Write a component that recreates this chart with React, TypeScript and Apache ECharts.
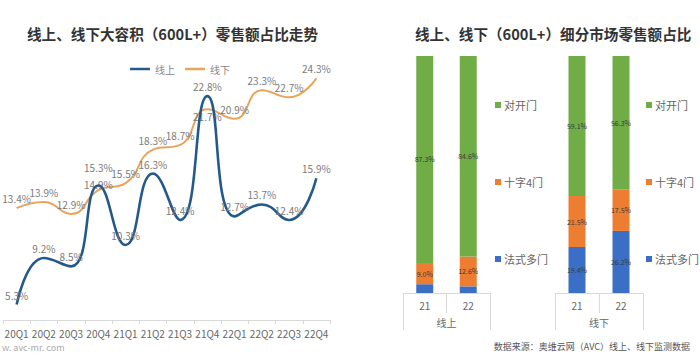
import React, { useEffect, useRef } from "react";
import * as echarts from "echarts";

const quarters = ["20Q1", "20Q2", "20Q3", "20Q4", "21Q1", "21Q2", "21Q3", "21Q4", "22Q1", "22Q2", "22Q3", "22Q4"];
const onlineShare = [5.3, 9.2, 8.5, 15.3, 10.3, 16.3, 12.4, 22.8, 12.7, 13.7, 12.4, 15.9];
const offlineShare = [13.4, 13.9, 12.9, 14.9, 15.5, 18.3, 18.7, 21.7, 20.9, 23.3, 22.7, 24.3];

const years = ["21", "22"];
const onlineDuikai = [87.3, 84.6];
const onlineShizi = [9.0, 12.6];
const onlineFashi = [3.7, 2.8];
const offlineDuikai = [59.1, 56.3];
const offlineShizi = [21.5, 17.5];
const offlineFashi = [19.4, 26.2];

const CJK = '"Noto Sans CJK SC", "Noto Sans", sans-serif';
const GREEN = "#70ad47";
const ORANGE = "#ed7d31";
const BLUE = "#3b6fc6";
const LINE_ON = "#24598c";
const LINE_OFF = "#eaa35a";

export default function App() {
  const ref = useRef<HTMLDivElement>(null);
  useEffect(() => {
    if (!ref.current) return;
    const chart = echarts.init(ref.current, null, { renderer: "svg" });
    const pctLabel = (p: any) => Number(p.value).toFixed(1) + "%";
    const lineLabel = {
      show: true,
      position: "top",
      distance: 4,
      fontSize: 10,
      color: "#7a7a7a",
      fontFamily: CJK,
      formatter: pctLabel,
    };
    const barLabel = {
      show: true,
      position: "inside",
      fontSize: 7,
      color: "#3a3a3a",
      fontFamily: CJK,
      formatter: (p: any) => (p.value < 5 ? "" : Number(p.value).toFixed(1) + "%"),
    };
    const catAxisCommon = {
      axisLine: { show: true, lineStyle: { color: "#d9d9d9" } },
      axisLabel: { color: "#666", fontSize: 10, fontFamily: CJK, interval: 0 },
      splitLine: { show: false },
    };
    const barGroup = (xi: number, yi: number, fashi: number[], shizi: number[], duikai: number[], stack: string) => [
      { name: "法式多门", type: "bar", stack, xAxisIndex: xi, yAxisIndex: yi, data: fashi, barWidth: 17, itemStyle: { color: BLUE }, label: barLabel },
      { name: "十字4门", type: "bar", stack, xAxisIndex: xi, yAxisIndex: yi, data: shizi, barWidth: 17, itemStyle: { color: ORANGE }, label: barLabel },
      { name: "对开门", type: "bar", stack, xAxisIndex: xi, yAxisIndex: yi, data: duikai, barWidth: 17, itemStyle: { color: GREEN }, label: barLabel },
    ];
    const legendBar = (left: number) => ({
      orient: "vertical",
      left,
      top: 93,
      icon: "rect",
      itemWidth: 6,
      itemHeight: 6,
      itemGap: 63,
      data: ["对开门", "十字4门", "法式多门"],
      textStyle: { color: "#666", fontSize: 11, fontFamily: CJK, lineHeight: 14, padding: [0, 0, 0, -2] },
    });
    chart.setOption({
      animation: false,
      backgroundColor: "#ffffff",
      title: [
        { text: "线上、线下大容积（600L+）零售额占比走势", left: 22, top: 21, textStyle: { fontSize: 14.6, fontWeight: "bold", color: "#333", fontFamily: CJK } },
        { text: "线上、线下（600L+）细分市场零售额占比", left: 410, top: 21, textStyle: { fontSize: 14.6, fontWeight: "bold", color: "#333", fontFamily: CJK } },
      ],
      legend: [
        {
          left: 125,
          top: 59,
          icon: "rect",
          itemWidth: 20,
          itemHeight: 2.5,
          itemGap: 10,
          data: [
            { name: "线上", itemStyle: { color: LINE_ON, opacity: 1 } },
            { name: "线下", itemStyle: { color: LINE_OFF, opacity: 1 } },
          ],
          textStyle: { color: "#888", fontSize: 10, fontFamily: CJK },
        },
        legendBar(490),
        legendBar(641),
      ],
      grid: [
        { left: 3, right: 370, top: 58, bottom: 36 },
        { left: 403, width: 87, top: 56, bottom: 63 },
        { left: 555, width: 88, top: 56, bottom: 63 },
      ],
      xAxis: [
        {
          gridIndex: 0,
          type: "category",
          data: quarters,
          ...catAxisCommon,
          axisTick: { show: true, length: 4, lineStyle: { color: "#d9d9d9" } },
          axisLabel: { ...catAxisCommon.axisLabel, margin: 8 },
        },
        {
          gridIndex: 1,
          type: "category",
          data: years,
          ...catAxisCommon,
          axisTick: { show: true, length: 20, interval: 0, lineStyle: { color: "#d9d9d9" } },
          axisLabel: { ...catAxisCommon.axisLabel, margin: 7 },
        },
        {
          gridIndex: 1,
          type: "category",
          data: ["线上"],
          position: "bottom",
          offset: 20,
          axisLine: { show: false },
          axisTick: { show: true, length: 17, interval: 0, lineStyle: { color: "#d9d9d9" } },
          axisLabel: { color: "#666", fontSize: 10, fontFamily: CJK, margin: 4 },
        },
        {
          gridIndex: 2,
          type: "category",
          data: years,
          ...catAxisCommon,
          axisTick: { show: true, length: 20, interval: 0, lineStyle: { color: "#d9d9d9" } },
          axisLabel: { ...catAxisCommon.axisLabel, margin: 7 },
        },
        {
          gridIndex: 2,
          type: "category",
          data: ["线下"],
          position: "bottom",
          offset: 20,
          axisLine: { show: false },
          axisTick: { show: true, length: 17, interval: 0, lineStyle: { color: "#d9d9d9" } },
          axisLabel: { color: "#666", fontSize: 10, fontFamily: CJK, margin: 4 },
        },
      ],
      yAxis: [
        { gridIndex: 0, type: "value", min: 4, max: 26, show: false },
        { gridIndex: 1, type: "value", min: 0, max: 100, show: false },
        { gridIndex: 2, type: "value", min: 0, max: 100, show: false },
      ],
      series: [
        {
          name: "线上",
          type: "line",
          xAxisIndex: 0,
          yAxisIndex: 0,
          data: onlineShare.map((v, i) => (i === 3 ? { value: v, label: { distance: 12 } } : v)),
          smooth: 0.5,
          symbol: "circle",
          symbolSize: 1,
          showSymbol: true,
          itemStyle: { color: "rgba(0,0,0,0)", borderWidth: 0 },
          lineStyle: { color: LINE_ON, width: 2.6 },
          label: lineLabel,
          z: 3,
        },
        {
          name: "线下",
          type: "line",
          xAxisIndex: 0,
          yAxisIndex: 0,
          data: offlineShare.map((v, i) =>
            i === 7
              ? { value: v, label: { position: "bottom", distance: 2 } }
              : i === 3
              ? { value: v, label: { distance: 0 } }
              : v
          ),
          smooth: 0.5,
          symbol: "circle",
          symbolSize: 1,
          showSymbol: true,
          itemStyle: { color: "rgba(0,0,0,0)", borderWidth: 0 },
          lineStyle: { color: LINE_OFF, width: 2 },
          label: lineLabel,
          z: 2,
        },
        ...barGroup(1, 1, onlineFashi, onlineShizi, onlineDuikai, "online"),
        ...barGroup(3, 2, offlineFashi, offlineShizi, offlineDuikai, "offline"),
      ],
      graphic: [
        { type: "text", left: 2, top: 343, style: { text: "w. avc-mr. com", fontSize: 9, fill: "#aaa", fontFamily: CJK } },
        { type: "text", right: 10, top: 342, style: { text: "数据来源：奥维云网（AVC）线上、线下监测数据", fontSize: 9, fill: "#555", fontFamily: CJK } },
      ],
    } as any);
    return () => chart.dispose();
  }, []);
  return (
    <div
      ref={ref}
      style={{ position: "fixed", left: 0, top: 0, width: 700, height: 356, background: "#fff" }}
    />
  );
}
